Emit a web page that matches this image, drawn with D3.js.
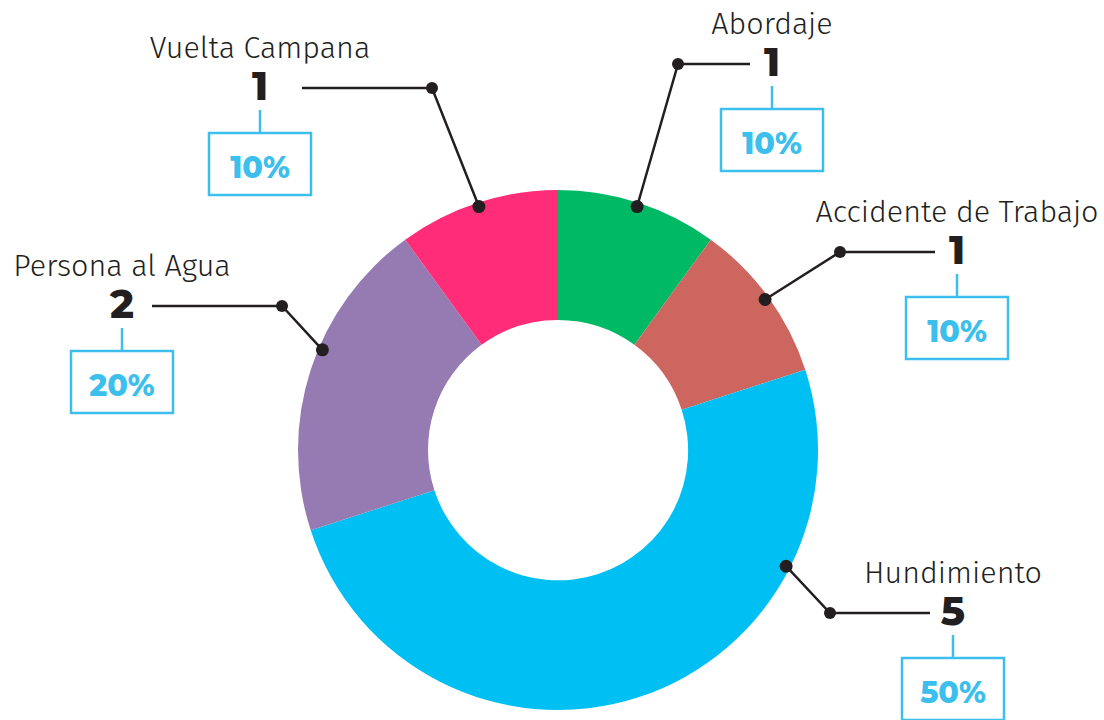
<!DOCTYPE html>
<html>
<head>
<meta charset="utf-8">
<script src="https://cdn.jsdelivr.net/npm/d3@7"></script>
<style>
  html, body { margin: 0; padding: 0; background: #fff; }
  svg { display: block; }
</style>
</head>
<body>
<div id="chart"></div>
<script>
// data
var categories = ["Abordaje", "Accidente de Trabajo", "Hundimiento", "Persona al Agua", "Vuelta Campana"];
var counts = [1, 1, 5, 2, 1];
var percents = ["10%", "10%", "50%", "20%", "10%"];
var colors = ["#00b964", "#cc665e", "#00bff3", "#957bb1", "#ff2d78"];

// callout layout (cx = label centre, y = name baseline, lineEnd/knee = leader line x, at = where on the slice the dot sits)
var callouts = [
  { cx: 772, y: 34,  lineEnd: 750, knee: 678, at: 0.5 },
  { cx: 957, y: 222, lineEnd: 935, knee: 840, at: 0.5 },
  { cx: 953, y: 583, lineEnd: 930, knee: 830, at: 0.25 },
  { cx: 122, y: 276, lineEnd: 152, knee: 282, at: 0.57 },
  { cx: 260, y: 58,  lineEnd: 302, knee: 432, at: 0.5 }
];

var width = 1104, height = 720;
var center = { x: 558, y: 450 };
var outerR = 260, innerR = 130;
var dark = "#231f20", blue = "#3dbfed";

var svg = d3.select("#chart").append("svg")
  .attr("width", width)
  .attr("height", height);

var pie = d3.pie().sort(null).value(function (d) { return d; });
var arcs = pie(counts);
var arc = d3.arc().innerRadius(innerR).outerRadius(outerR);

var g = svg.append("g")
  .attr("transform", "translate(" + center.x + "," + center.y + ")");

g.selectAll("path")
  .data(arcs)
  .enter()
  .append("path")
  .attr("d", arc)
  .attr("fill", function (d, i) { return colors[i]; });

// callouts
arcs.forEach(function (d, i) {
  var c = callouts[i];
  var ang = d.startAngle + (d.endAngle - d.startAngle) * c.at;
  var dotR = outerR - 4;
  var dot = { x: center.x + Math.sin(ang) * dotR, y: center.y - Math.cos(ang) * dotR };
  var lineY = c.y + 30;
  var numY = c.y + 42;
  var boxTop = numY + 33, boxW = 102, boxH = 62;

  var grp = svg.append("g");

  grp.append("polyline")
    .attr("points", [[c.lineEnd, lineY], [c.knee, lineY], [dot.x, dot.y]].join(" "))
    .attr("fill", "none")
    .attr("stroke", dark)
    .attr("stroke-width", 2.5);

  grp.append("circle").attr("cx", c.knee).attr("cy", lineY).attr("r", 6).attr("fill", dark);
  grp.append("circle").attr("cx", dot.x).attr("cy", dot.y).attr("r", 6.5).attr("fill", dark);

  grp.append("text")
    .attr("x", c.cx)
    .attr("y", c.y)
    .attr("text-anchor", "middle")
    .attr("style", "font-family: 'Fira Sans', 'Open Sans', sans-serif; font-weight: 300; font-size: 30.5px; fill: " + dark + ";")
    .text(categories[i]);

  grp.append("text")
    .attr("x", c.cx)
    .attr("y", numY)
    .attr("text-anchor", "middle")
    .attr("style", "font-family: 'Montserrat', 'Open Sans', sans-serif; font-weight: 800; font-size: 40px; fill: " + dark + ";")
    .text(counts[i]);

  grp.append("line")
    .attr("x1", c.cx).attr("x2", c.cx)
    .attr("y1", numY + 10).attr("y2", boxTop)
    .attr("stroke", blue)
    .attr("stroke-width", 2.5);

  grp.append("rect")
    .attr("x", c.cx - boxW / 2)
    .attr("y", boxTop)
    .attr("width", boxW)
    .attr("height", boxH)
    .attr("fill", "none")
    .attr("stroke", blue)
    .attr("stroke-width", 2.5);

  grp.append("text")
    .attr("x", c.cx)
    .attr("y", boxTop + 45)
    .attr("text-anchor", "middle")
    .attr("style", "font-family: 'Montserrat', 'Open Sans', sans-serif; font-weight: 800; font-size: 30px; fill: " + blue + ";")
    .text(percents[i]);
});
</script>
</body>
</html>
